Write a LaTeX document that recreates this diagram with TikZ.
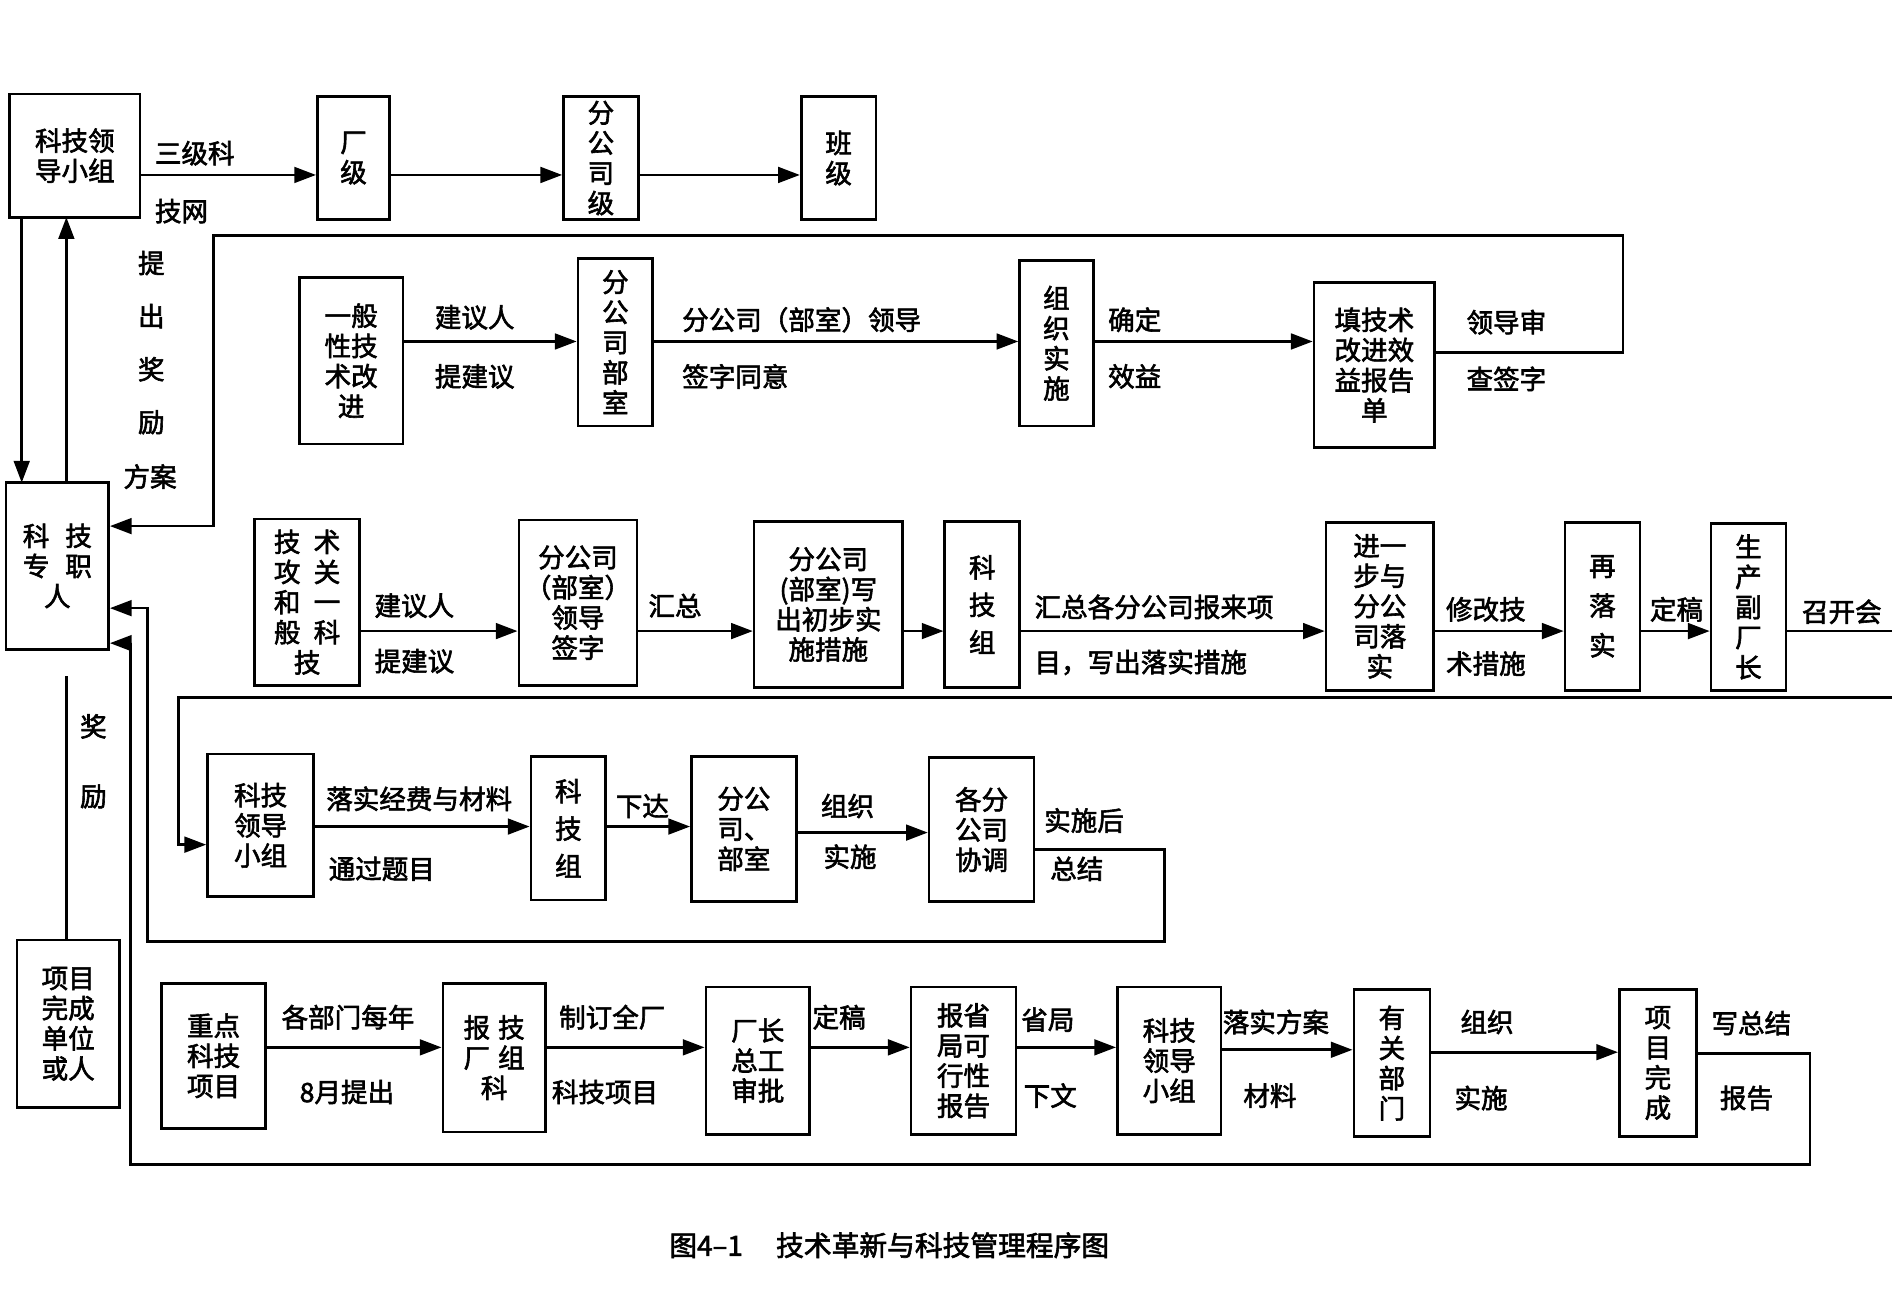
\documentclass[tikz,border=0pt]{standalone}
\usepackage{fontspec}
\setmainfont{Noto Sans CJK SC}[AutoFakeBold=2.2]
\usetikzlibrary{arrows.meta}
\begin{document}
\begin{tikzpicture}[x=0.5pt,y=-0.5pt,
  box/.style={draw,line width=1.1pt,align=center,inner sep=0pt,font=\fontsize{11}{12.5}\selectfont\bfseries},
  lab/.style={anchor=west,inner sep=0pt,font=\fontsize{11}{12}\selectfont\bfseries},
  ln/.style={line width=1.1pt},
  arr/.style={line width=1.1pt,-{Triangle[length=9pt,width=6.5pt]}}]
\useasboundingbox (0,0) rectangle (1568,1086);
\newcommand\bx[6]{\node[box,minimum width={(#4-#2)*0.5pt},minimum height={(#5-#3)*0.5pt}] (#1) at ({(#2+#4)/2},{(#3+#5)/2}) {#6};}
% row 0
\bx{a1}{8}{78}{116}{180}{科技领\\导小组}
\bx{a2}{263}{80}{323}{182}{厂\\级}
\bx{a3}{467}{80}{529}{182}{分\\公\\司\\级}
\bx{a4}{664}{80}{726}{182}{班\\级}
\bx{k}{5}{400}{90}{538}{科\hspace{0.6em}技\\专\hspace{0.6em}职\\人\hspace{1.6em}}
\bx{x}{14}{779}{99}{918}{项目\\完成\\单位\\或人}
\draw[arr] (a1.east|-0,145) -- (a2.west|-0,145);
\draw[arr] (a2.east|-0,145) -- (a3.west|-0,145);
\draw[arr] (a3.east|-0,145) -- (a4.west|-0,145);
\node[lab] at (128,127) {三级科};
\node[lab] at (128,175) {技网};
\draw[arr] (18,180) -- (18,400);
\draw[arr] (55,400) -- (55,180);
\draw[ln] (x.north-|55,0) -- (55,560);
\node[lab] at (66,602) {奖};
\node[lab] at (66,660) {励};
% row 2
\bx{b1}{248}{230}{334}{368}{一般\\性技\\术改\\进}
\bx{b2}{479}{214}{541}{353}{分\\公\\司\\部\\室}
\bx{b3}{845}{216}{906}{353}{组\\织\\实\\施}
\bx{b4}{1089}{234}{1189}{371}{填技术\\改进效\\益报告\\单}
\draw[arr] (b1.east|-0,283) -- (b2.west|-0,283);
\draw[arr] (b2.east|-0,283) -- (b3.west|-0,283);
\draw[arr] (b3.east|-0,283) -- (b4.west|-0,283);
\coordinate (lp) at (90,436);
\draw[arr] (b4.east|-0,292) -- (1345,292) -- (1345,195) -- (177,195) -- (177,436) -- (k.east|-lp);
\node[lab] at (360,263) {建议人};
\node[lab] at (360,312) {提建议};
\node[lab] at (565,265) {分公司（部室）领导};
\node[lab] at (565,312) {签字同意};
\node[lab] at (918,265) {确定};
\node[lab] at (918,312) {效益};
\node[lab] at (1215,267) {领导审};
\node[lab] at (1215,314) {查签字};
\node[lab] at (114,218) {提};
\node[lab] at (114,262) {出};
\node[lab] at (114,306) {奖};
\node[lab] at (114,350) {励};
\node[lab] at (102,395) {方案};
% row 3
\bx{c1}{211}{430}{298}{568}{技\hspace{0.5em}术\\攻\hspace{0.5em}关\\和\hspace{0.5em}一\\般\hspace{0.5em}科\\技\hspace{1.5em}}
\bx{c2}{430}{431}{528}{568}{分公司\\（部室）\\领导\hspace{1em}\\签字\hspace{1em}}
\bx{c3}{625}{432}{748}{570}{分公司\\(部室)写\\出初步实\\施措施}
\bx{c4}{783}{432}{845}{570}{科\\[3pt]技\\[3pt]组}
\bx{c5}{1099}{433}{1188}{572}{进一\\步与\\分公\\司落\\实\hspace{1em}}
\bx{c6}{1297}{433}{1359}{572}{再\\[4pt]落\\[4pt]实}
\bx{c7}{1418}{434}{1480}{572}{生\\产\\副\\厂\\长}
\draw[arr] (c1.east|-0,523) -- (c2.west|-0,523);
\draw[arr] (c2.east|-0,523) -- (c3.west|-0,523);
\draw[arr] (c3.east|-0,523) -- (c4.west|-0,523);
\draw[arr] (c4.east|-0,523) -- (c5.west|-0,523);
\draw[arr] (c5.east|-0,523) -- (c6.west|-0,523);
\draw[arr] (c6.east|-0,523) -- (c7.west|-0,523);
\draw[ln] (c7.east|-0,523) -- (1568,523);
\node[lab] at (310,502) {建议人};
\node[lab] at (310,548) {提建议};
\node[lab] at (537,502) {汇总};
\node[lab] at (857,503) {汇总各分公司报来项};
\node[lab] at (857,549) {目，写出落实措施};
\node[lab] at (1198,505) {修改技};
\node[lab] at (1198,550) {术措施};
\node[lab] at (1367,505) {定稿};
\node[lab] at (1493,507) {召开会};
% row 4
\bx{d1}{172}{625}{260}{743}{科技\\领导\\小组}
\bx{d2}{440}{627}{502}{746}{科\\[3pt]技\\[3pt]组}
\bx{d3}{573}{627}{660}{747}{分公\\司、\\部室}
\bx{d4}{770}{628}{857}{747}{各分\\公司\\协调}
\draw[arr] (1568,578) -- (148,578) -- (148,700) -- (d1.west|-0,700);
\draw[arr] (d1.east|-0,685) -- (d2.west|-0,685);
\draw[arr] (d2.east|-0,685) -- (d3.west|-0,685);
\draw[arr] (d3.east|-0,690) -- (d4.west|-0,690);
\draw[arr] (d4.east|-0,704) -- (965,704) -- (965,780) -- (122,780) -- (122,504) -- (k.east|-0,504);
\node[lab] at (270,662) {落实经费与材料};
\node[lab] at (272,720) {通过题目};
\node[lab] at (510,668) {下达};
\node[lab] at (680,668) {组织};
\node[lab] at (682,710) {实施};
\node[lab] at (865,680) {实施后};
\node[lab] at (870,720) {总结};
% row 5
\bx{e1}{134}{815}{220}{935}{重点\\科技\\项目}
\bx{e2}{367}{815}{452}{938}{报\hspace{0.3em}技\\厂\hspace{0.3em}组\\科\hspace{1.3em}}
\bx{e3}{585}{818}{671}{940}{厂长\\总工\\审批}
\bx{e4}{755}{818}{842}{940}{报省\\局可\\行性\\报告}
\bx{e5}{926}{818}{1012}{940}{科技\\领导\\小组}
\bx{e6}{1122}{820}{1185}{942}{有\\关\\部\\门}
\bx{e7}{1342}{820}{1406}{942}{项\\目\\完\\成}
\draw[arr] (e1.east|-0,868) -- (e2.west|-0,868);
\draw[arr] (e2.east|-0,868) -- (e3.west|-0,868);
\draw[arr] (e3.east|-0,868) -- (e4.west|-0,868);
\draw[arr] (e4.east|-0,868) -- (e5.west|-0,868);
\draw[arr] (e5.east|-0,870) -- (e6.west|-0,870);
\draw[arr] (e6.east|-0,872) -- (e7.west|-0,872);
\draw[arr] (e7.east|-0,873) -- (1500,873) -- (1500,965) -- (108,965) -- (108,533) -- (k.east|-0,533);
\node[lab] at (233,843) {各部门每年};
\node[lab] at (248,905) {8月提出};
\node[lab] at (463,843) {制订全厂};
\node[lab] at (457,905) {科技项目};
\node[lab] at (673,843) {定稿};
\node[lab] at (846,845) {省局};
\node[lab] at (848,908) {下文};
\node[lab] at (1013,847) {落实方案};
\node[lab] at (1030,908) {材料};
\node[lab] at (1210,847) {组织};
\node[lab] at (1205,910) {实施};
\node[lab] at (1418,848) {写总结};
\node[lab] at (1425,910) {报告};
\node[font=\fontsize{11.5}{12}\selectfont\bfseries] (cap) at (737,1032) {图4–1\hspace{1.2em}技术革新与科技管理程序图};
\end{tikzpicture}
\end{document}
